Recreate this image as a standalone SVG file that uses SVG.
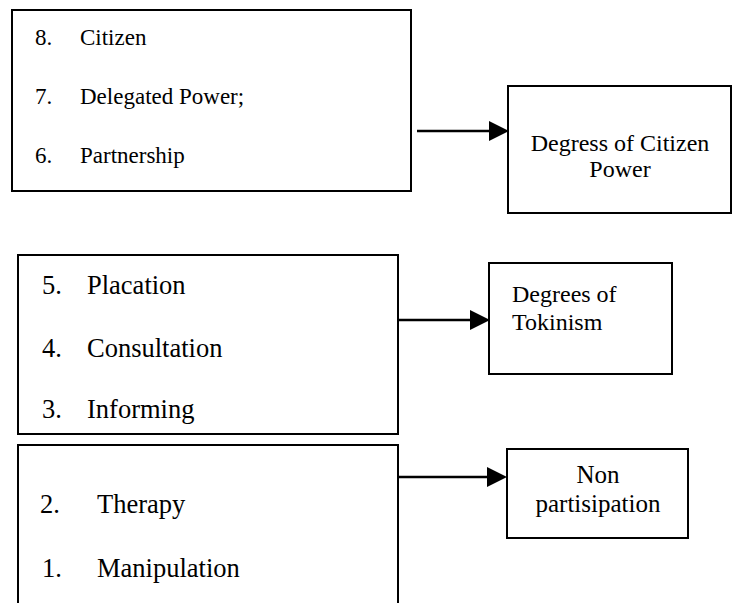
<svg xmlns="http://www.w3.org/2000/svg" width="733" height="603" viewBox="0 0 733 603">
<defs>
<style>
.box{fill:none;stroke:#000;stroke-width:2}
.t{font-family:"Liberation Serif","Times New Roman",serif;fill:#000}
.c{text-anchor:middle}
.conn{stroke:#000;stroke-width:2.5;fill:none}
</style>
<marker id="ah" viewBox="0 0 20 20" refX="0" refY="10" markerWidth="20" markerHeight="20" markerUnits="userSpaceOnUse" orient="auto">
<path d="M0,0 L20,10 L0,20 Z" fill="#000"/>
</marker>
</defs>
<rect width="733" height="603" fill="#fff"/>
<g id="citizen-levels">
<rect class="box" x="12" y="10" width="399" height="181"/>
<g class="t" font-size="23">
<text x="35" y="45">8.</text><text x="80" y="45">Citizen</text>
<text x="35" y="104">7.</text><text x="80" y="104">Delegated Power;</text>
<text x="35" y="163">6.</text><text x="80" y="163">Partnership</text>
</g>
</g>
<g id="citizen-power">
<rect class="box" x="508" y="86" width="223" height="127"/>
<g class="t c" font-size="24">
<text x="620" y="151">Degress of Citizen</text>
<text x="620" y="177">Power</text>
</g>
</g>
<g id="tokenism-levels">
<rect class="box" x="18" y="255" width="380" height="179"/>
<g class="t" font-size="26.5">
<text x="42" y="294">5.</text><text x="87" y="294">Placation</text>
<text x="42" y="357">4.</text><text x="87" y="357">Consultation</text>
<text x="42" y="418">3.</text><text x="87" y="418">Informing</text>
</g>
</g>
<g id="tokenism">
<rect class="box" x="489" y="263" width="183" height="111"/>
<g class="t" font-size="24">
<text x="512" y="302">Degrees of</text>
<text x="512" y="330">Tokinism</text>
</g>
</g>
<g id="nonparticipation-levels">
<path class="box" d="M18,610 L18,445 L398,445 L398,610"/>
<g class="t" font-size="26.5">
<text x="40" y="513">2.</text><text x="97" y="513">Therapy</text>
<text x="42" y="577">1.</text><text x="97" y="577">Manipulation</text>
</g>
</g>
<g id="nonparticipation">
<rect class="box" x="507" y="449" width="181" height="89"/>
<g class="t c" font-size="25">
<text x="598" y="483">Non</text>
<text x="598" y="512">partisipation</text>
</g>
</g>
<g id="connectors">
<line class="conn" x1="417" y1="131" x2="489" y2="131" marker-end="url(#ah)"/>
<line class="conn" x1="399" y1="320" x2="470" y2="320" marker-end="url(#ah)"/>
<line class="conn" x1="399" y1="477" x2="487" y2="477" marker-end="url(#ah)"/>
</g>
</svg>
